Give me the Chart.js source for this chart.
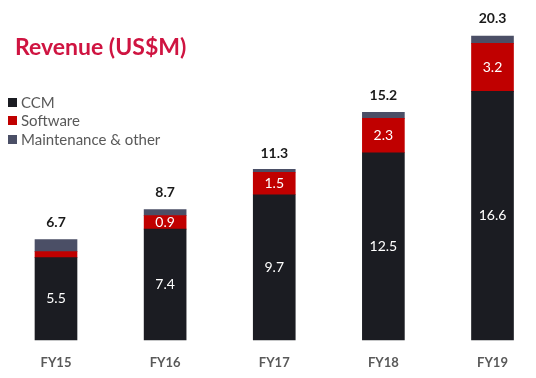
<!DOCTYPE html>
<html>
<head>
<meta charset="utf-8">
<script src="https://cdn.jsdelivr.net/npm/chart.js@4/dist/chart.umd.min.js"></script>
<style>
  html, body { margin: 0; padding: 0; background: #fff; }
  #wrap { position: relative; width: 536px; height: 378px; font-family: Lato, "Open Sans", sans-serif; }
  #c { position: absolute; left: 0; top: 0; }
  #title { position: absolute; left: 15px; top: 35px; font-size: 23px; line-height: 23px; font-weight: bold; color: #CF1441; white-space: nowrap; }
  #legend { position: absolute; left: 8px; top: 93px; font-size: 15px; line-height: 18.3px; color: #595959; }
  #legend div { position: relative; padding-left: 13px; white-space: nowrap; }
  #legend span { position: absolute; left: 0; top: 5px; width: 9px; height: 9px; }
</style>
</head>
<body>
<div id="wrap">
  <canvas id="c" width="536" height="378"></canvas>
  <div id="title">Revenue (US$M)</div>
  <div id="legend"></div>
</div>
<script>
const categories = ["FY15", "FY16", "FY17", "FY18", "FY19"];
const ccm = [5.5, 7.4, 9.7, 12.5, 16.6];
const software = [0.4, 0.9, 1.5, 2.3, 3.2];
const maintenance = [0.8, 0.4, 0.2, 0.4, 0.5];
const totals = [6.7, 8.7, 11.3, 15.2, 20.3];
const ccmLabels = ["5.5", "7.4", "9.7", "12.5", "16.6"];
const softwareLabels = [null, "0.9", "1.5", "2.3", "3.2"];
const totalLabels = ["6.7", "8.7", "11.3", "15.2", "20.3"];

const seriesNames = ["CCM", "Software", "Maintenance & other"];
const colors = ["#1B1C22", "#C00000", "#4B4F66"];

const legend = document.getElementById('legend');
seriesNames.forEach((n, i) => {
  const d = document.createElement('div');
  const s = document.createElement('span');
  s.style.background = colors[i];
  d.appendChild(s);
  d.appendChild(document.createTextNode(n));
  legend.appendChild(d);
});

const labelPlugin = {
  id: 'valueLabels',
  afterDatasetsDraw(chart) {
    const ctx = chart.ctx;
    ctx.save();
    ctx.textAlign = 'center';
    ctx.textBaseline = 'middle';
    const inside = [ccmLabels, softwareLabels];
    inside.forEach((labs, di) => {
      const meta = chart.getDatasetMeta(di);
      meta.data.forEach((bar, i) => {
        if (!labs[i]) return;
        ctx.fillStyle = '#ffffff';
        ctx.font = '14px Lato, "Open Sans", sans-serif';
        ctx.fillText(labs[i], bar.x, (bar.y + bar.base) / 2);
      });
    });
    const ys = chart.scales.y;
    const meta = chart.getDatasetMeta(0);
    meta.data.forEach((bar, i) => {
      ctx.fillStyle = '#1a1a1a';
      ctx.font = 'bold 14px Lato, "Open Sans", sans-serif';
      ctx.fillText(totalLabels[i], bar.x, ys.getPixelForValue(totals[i]) - 17);
    });
    ctx.restore();
  }
};

new Chart(document.getElementById('c'), {
  type: 'bar',
  data: {
    labels: categories,
    datasets: [
      { label: seriesNames[0], data: ccm, backgroundColor: colors[0], clip: false },
      { label: seriesNames[1], data: software, backgroundColor: colors[1], clip: false },
      { label: seriesNames[2], data: maintenance, backgroundColor: colors[2], clip: false }
    ]
  },
  options: {
    responsive: false,
    animation: false,
    devicePixelRatio: 1,
    barThickness: 42,
    layout: { padding: { left: 56, right: 43.5, top: 10.5, bottom: 0 } },
    plugins: { legend: { display: false }, tooltip: { enabled: false } },
    scales: {
      x: {
        stacked: true,
        offset: false,
        grid: { display: false, drawTicks: false },
        border: { display: false },
        afterFit(scale) { scale.height = 38; },
        ticks: { padding: 15, maxRotation: 0, color: '#595959', font: { family: 'Lato', size: 13, weight: 'bold' } }
      },
      y: {
        stacked: true,
        display: false,
        min: 0,
        max: 22
      }
    }
  },
  plugins: [labelPlugin]
});
</script>
</body>
</html>
